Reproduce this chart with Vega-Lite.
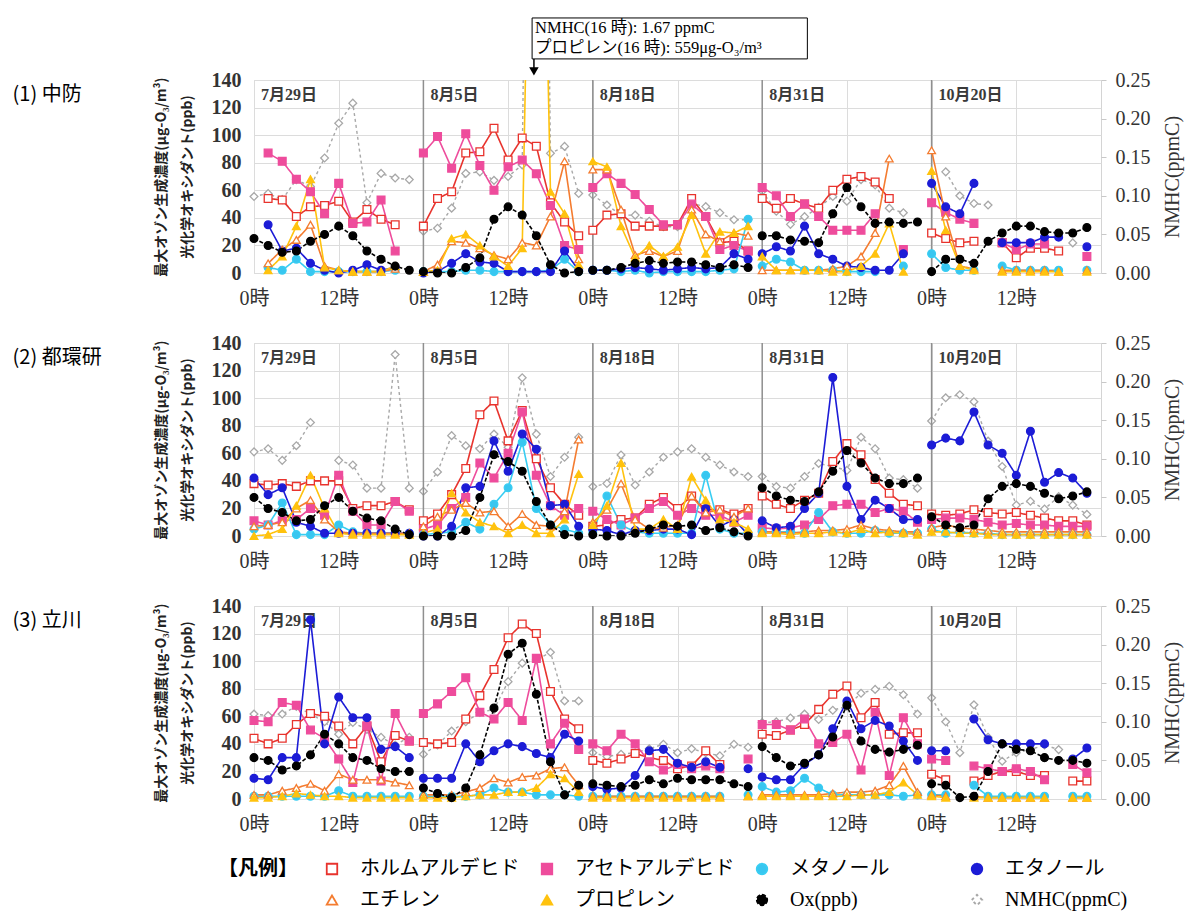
{
"$schema":"https://vega.github.io/schema/vega-lite/v6.json",
"background":"white",
"padding":{"left":12,"top":16,"right":5,"bottom":5},
"spacing":23,
"config":{"view":{"stroke":"#d4d4d4"},"axis":{"labelFlush":false,"labelOverlap":false}},
"datasets":{
"days":[{"t":0,"label":"7月29日"},{"t":12,"label":"8月5日"},{"t":24,"label":"8月18日"},{"t":36,"label":"8月31日"},{"t":48,"label":"10月20日"}],
"m":[
{"p":1,"d":0,"t":0,"F":null,"A":null,"M":null,"E":null,"Et":null,"P":null,"O":25,"N":0.099},
{"p":1,"d":0,"t":1,"F":54,"A":87,"M":4,"E":35,"Et":7,"P":2,"O":20,"N":0.103},
{"p":1,"d":0,"t":2,"F":53,"A":81,"M":2,"E":16,"Et":17,"P":12,"O":15,"N":0.095},
{"p":1,"d":0,"t":3,"F":41,"A":68,"M":10,"E":18,"Et":24,"P":34,"O":16,"N":0.121},
{"p":1,"d":0,"t":4,"F":48,"A":59,"M":1,"E":7,"Et":35,"P":68,"O":23,"N":0.112},
{"p":1,"d":0,"t":5,"F":49,"A":43,"M":1,"E":2,"Et":5,"P":4,"O":28,"N":0.149},
{"p":1,"d":0,"t":6,"F":52,"A":65,"M":1,"E":0,"Et":2,"P":2,"O":34,"N":0.194},
{"p":1,"d":0,"t":7,"F":37,"A":36,"M":1,"E":2,"Et":1,"P":1,"O":27,"N":0.22},
{"p":1,"d":0,"t":8,"F":46,"A":37,"M":1,"E":6,"Et":1,"P":1,"O":16,"N":0.091},
{"p":1,"d":0,"t":9,"F":39,"A":53,"M":1,"E":2,"Et":1,"P":1,"O":10,"N":0.129},
{"p":1,"d":0,"t":10,"F":35,"A":16,"M":2,"E":4,"Et":3,"P":5,"O":5,"N":0.123},
{"p":1,"d":0,"t":11,"F":null,"A":null,"M":null,"E":null,"Et":null,"P":null,"O":2,"N":0.121},
{"p":1,"d":1,"t":12,"F":34,"A":87,"M":1,"E":0,"Et":1,"P":1,"O":1,"N":0.054},
{"p":1,"d":1,"t":13,"F":54,"A":99,"M":1,"E":1,"Et":6,"P":2,"O":0,"N":0.058},
{"p":1,"d":1,"t":14,"F":59,"A":76,"M":1,"E":7,"Et":23,"P":25,"O":0,"N":0.084},
{"p":1,"d":1,"t":15,"F":87,"A":101,"M":2,"E":14,"Et":22,"P":28,"O":4,"N":0.129},
{"p":1,"d":1,"t":16,"F":88,"A":78,"M":2,"E":8,"Et":18,"P":20,"O":11,"N":0.131},
{"p":1,"d":1,"t":17,"F":105,"A":60,"M":1,"E":7,"Et":13,"P":12,"O":39,"N":0.12},
{"p":1,"d":1,"t":18,"F":82,"A":77,"M":1,"E":1,"Et":10,"P":5,"O":48,"N":0.125},
{"p":1,"d":1,"t":19,"F":98,"A":82,"M":1,"E":1,"Et":22,"P":18,"O":42,"N":0.14},
{"p":1,"d":1,"t":20,"F":92,"A":72,"M":1,"E":1,"Et":20,"P":559,"O":27,"N":1.67},
{"p":1,"d":1,"t":21,"F":51,"A":49,"M":2,"E":1,"Et":41,"P":59,"O":6,"N":0.155},
{"p":1,"d":1,"t":22,"F":37,"A":20,"M":10,"E":16,"Et":81,"P":43,"O":0,"N":0.164},
{"p":1,"d":1,"t":23,"F":27,"A":17,"M":1,"E":2,"Et":10,"P":6,"O":1,"N":0.103},
{"p":1,"d":2,"t":24,"F":31,"A":62,"M":2,"E":2,"Et":75,"P":81,"O":2,"N":0.101},
{"p":1,"d":2,"t":25,"F":42,"A":72,"M":2,"E":2,"Et":75,"P":77,"O":2,"N":0.088},
{"p":1,"d":2,"t":26,"F":43,"A":65,"M":1,"E":3,"Et":46,"P":34,"O":4,"N":0.075},
{"p":1,"d":2,"t":27,"F":34,"A":57,"M":2,"E":4,"Et":13,"P":11,"O":7,"N":0.075},
{"p":1,"d":2,"t":28,"F":34,"A":46,"M":0,"E":3,"Et":16,"P":20,"O":9,"N":0.067},
{"p":1,"d":2,"t":29,"F":34,"A":35,"M":1,"E":2,"Et":12,"P":12,"O":7,"N":0.06},
{"p":1,"d":2,"t":30,"F":35,"A":35,"M":1,"E":3,"Et":16,"P":19,"O":8,"N":0.06},
{"p":1,"d":2,"t":31,"F":54,"A":50,"M":1,"E":4,"Et":46,"P":42,"O":8,"N":0.09},
{"p":1,"d":2,"t":32,"F":41,"A":41,"M":1,"E":3,"Et":28,"P":14,"O":6,"N":0.086},
{"p":1,"d":2,"t":33,"F":22,"A":17,"M":2,"E":4,"Et":23,"P":30,"O":4,"N":0.078},
{"p":1,"d":2,"t":34,"F":23,"A":20,"M":3,"E":14,"Et":29,"P":29,"O":6,"N":0.069},
{"p":1,"d":2,"t":35,"F":16,"A":16,"M":39,"E":10,"Et":27,"P":34,"O":4,"N":0.069},
{"p":1,"d":3,"t":36,"F":54,"A":62,"M":5,"E":14,"Et":2,"P":12,"O":27,"N":0.106},
{"p":1,"d":3,"t":37,"F":47,"A":56,"M":10,"E":19,"Et":2,"P":2,"O":27,"N":0.08},
{"p":1,"d":3,"t":38,"F":54,"A":41,"M":8,"E":16,"Et":2,"P":2,"O":24,"N":0.063},
{"p":1,"d":3,"t":39,"F":50,"A":50,"M":2,"E":34,"Et":2,"P":2,"O":23,"N":0.073},
{"p":1,"d":3,"t":40,"F":47,"A":41,"M":2,"E":14,"Et":2,"P":2,"O":22,"N":0.085},
{"p":1,"d":3,"t":41,"F":60,"A":31,"M":2,"E":10,"Et":3,"P":1,"O":43,"N":0.099},
{"p":1,"d":3,"t":42,"F":68,"A":31,"M":1,"E":5,"Et":5,"P":1,"O":62,"N":0.093},
{"p":1,"d":3,"t":43,"F":70,"A":31,"M":1,"E":4,"Et":12,"P":5,"O":48,"N":0.121},
{"p":1,"d":3,"t":44,"F":66,"A":43,"M":1,"E":2,"Et":29,"P":14,"O":36,"N":0.114},
{"p":1,"d":3,"t":45,"F":54,"A":null,"M":null,"E":2,"Et":83,"P":36,"O":37,"N":0.084},
{"p":1,"d":3,"t":46,"F":null,"A":17,"M":5,"E":14,"Et":null,"P":1,"O":36,"N":0.078},
{"p":1,"d":3,"t":47,"F":null,"A":null,"M":null,"E":null,"Et":null,"P":null,"O":37,"N":null},
{"p":1,"d":4,"t":48,"F":29,"A":51,"M":14,"E":65,"Et":89,"P":74,"O":1,"N":null},
{"p":1,"d":4,"t":49,"F":25,"A":44,"M":4,"E":48,"Et":41,"P":31,"O":10,"N":0.131},
{"p":1,"d":4,"t":50,"F":22,"A":39,"M":2,"E":43,"Et":5,"P":5,"O":10,"N":0.1},
{"p":1,"d":4,"t":51,"F":23,"A":36,"M":2,"E":65,"Et":3,"P":2,"O":7,"N":0.09},
{"p":1,"d":4,"t":52,"F":null,"A":null,"M":null,"E":null,"Et":null,"P":null,"O":23,"N":0.088},
{"p":1,"d":4,"t":53,"F":22,"A":22,"M":5,"E":22,"Et":2,"P":1,"O":29,"N":null},
{"p":1,"d":4,"t":54,"F":11,"A":17,"M":2,"E":22,"Et":2,"P":1,"O":34,"N":null},
{"p":1,"d":4,"t":55,"F":18,"A":21,"M":2,"E":22,"Et":2,"P":1,"O":34,"N":null},
{"p":1,"d":4,"t":56,"F":18,"A":21,"M":2,"E":26,"Et":2,"P":1,"O":30,"N":null},
{"p":1,"d":4,"t":57,"F":16,"A":null,"M":2,"E":26,"Et":1,"P":1,"O":29,"N":null},
{"p":1,"d":4,"t":58,"F":null,"A":null,"M":null,"E":null,"Et":null,"P":null,"O":29,"N":0.039},
{"p":1,"d":4,"t":59,"F":null,"A":12,"M":2,"E":19,"Et":2,"P":1,"O":33,"N":null},
{"p":2,"d":0,"t":0,"F":38,"A":11,"M":5,"E":42,"Et":7,"P":0,"O":28,"N":0.109},
{"p":2,"d":0,"t":1,"F":37,"A":8,"M":8,"E":30,"Et":8,"P":1,"O":20,"N":0.113},
{"p":2,"d":0,"t":2,"F":38,"A":11,"M":24,"E":35,"Et":10,"P":5,"O":17,"N":0.098},
{"p":2,"d":0,"t":3,"F":36,"A":12,"M":1,"E":10,"Et":20,"P":22,"O":11,"N":0.117},
{"p":2,"d":0,"t":4,"F":40,"A":20,"M":1,"E":7,"Et":26,"P":44,"O":12,"N":0.147},
{"p":2,"d":0,"t":5,"F":40,"A":15,"M":1,"E":2,"Et":12,"P":20,"O":22,"N":null},
{"p":2,"d":0,"t":6,"F":40,"A":44,"M":8,"E":2,"Et":3,"P":2,"O":28,"N":0.098},
{"p":2,"d":0,"t":7,"F":20,"A":18,"M":3,"E":2,"Et":2,"P":1,"O":18,"N":0.092},
{"p":2,"d":0,"t":8,"F":22,"A":8,"M":2,"E":2,"Et":2,"P":1,"O":13,"N":0.062},
{"p":2,"d":0,"t":9,"F":22,"A":8,"M":2,"E":2,"Et":2,"P":1,"O":11,"N":0.062},
{"p":2,"d":0,"t":10,"F":25,"A":25,"M":2,"E":2,"Et":2,"P":1,"O":5,"N":0.235},
{"p":2,"d":0,"t":11,"F":19,"A":18,"M":2,"E":2,"Et":2,"P":1,"O":1,"N":0.062},
{"p":2,"d":1,"t":12,"F":11,"A":5,"M":1,"E":0,"Et":7,"P":2,"O":0,"N":0.058},
{"p":2,"d":1,"t":13,"F":16,"A":8,"M":2,"E":0,"Et":14,"P":5,"O":0,"N":0.083},
{"p":2,"d":1,"t":14,"F":30,"A":20,"M":3,"E":7,"Et":19,"P":31,"O":0,"N":0.13},
{"p":2,"d":1,"t":15,"F":49,"A":28,"M":10,"E":35,"Et":24,"P":17,"O":4,"N":0.117},
{"p":2,"d":1,"t":16,"F":88,"A":53,"M":5,"E":36,"Et":17,"P":10,"O":28,"N":0.113},
{"p":2,"d":1,"t":17,"F":98,"A":42,"M":23,"E":69,"Et":18,"P":7,"O":59,"N":0.132},
{"p":2,"d":1,"t":18,"F":69,"A":60,"M":35,"E":47,"Et":7,"P":2,"O":54,"N":0.115},
{"p":2,"d":1,"t":19,"F":91,"A":90,"M":68,"E":74,"Et":16,"P":8,"O":47,"N":0.205},
{"p":2,"d":1,"t":20,"F":56,"A":44,"M":20,"E":63,"Et":8,"P":2,"O":25,"N":0.132},
{"p":2,"d":1,"t":21,"F":35,"A":22,"M":8,"E":22,"Et":7,"P":2,"O":8,"N":0.077},
{"p":2,"d":1,"t":22,"F":23,"A":15,"M":5,"E":23,"Et":18,"P":12,"O":1,"N":0.102},
{"p":2,"d":1,"t":23,"F":15,"A":20,"M":2,"E":7,"Et":70,"P":45,"O":0,"N":0.128},
{"p":2,"d":2,"t":24,"F":7,"A":18,"M":3,"E":5,"Et":10,"P":8,"O":1,"N":0.064},
{"p":2,"d":2,"t":25,"F":8,"A":12,"M":29,"E":4,"Et":19,"P":22,"O":0,"N":0.068},
{"p":2,"d":2,"t":26,"F":12,"A":8,"M":8,"E":1,"Et":38,"P":53,"O":0,"N":0.105},
{"p":2,"d":2,"t":27,"F":13,"A":13,"M":3,"E":4,"Et":12,"P":5,"O":2,"N":0.066},
{"p":2,"d":2,"t":28,"F":23,"A":20,"M":2,"E":4,"Et":5,"P":5,"O":5,"N":0.083},
{"p":2,"d":2,"t":29,"F":28,"A":25,"M":2,"E":5,"Et":6,"P":12,"O":8,"N":0.102},
{"p":2,"d":2,"t":30,"F":20,"A":15,"M":2,"E":5,"Et":8,"P":5,"O":7,"N":0.109},
{"p":2,"d":2,"t":31,"F":29,"A":20,"M":2,"E":1,"Et":29,"P":43,"O":8,"N":0.113},
{"p":2,"d":2,"t":32,"F":19,"A":15,"M":44,"E":20,"Et":17,"P":26,"O":4,"N":0.102},
{"p":2,"d":2,"t":33,"F":19,"A":15,"M":5,"E":7,"Et":19,"P":12,"O":6,"N":0.092},
{"p":2,"d":2,"t":34,"F":16,"A":10,"M":2,"E":12,"Et":14,"P":10,"O":3,"N":0.083},
{"p":2,"d":2,"t":35,"F":20,"A":15,"M":2,"E":1,"Et":20,"P":5,"O":0,"N":0.077},
{"p":2,"d":3,"t":36,"F":29,"A":6,"M":3,"E":11,"Et":3,"P":2,"O":35,"N":0.077},
{"p":2,"d":3,"t":37,"F":23,"A":5,"M":3,"E":6,"Et":3,"P":2,"O":29,"N":0.064},
{"p":2,"d":3,"t":38,"F":20,"A":6,"M":3,"E":7,"Et":2,"P":1,"O":26,"N":0.062},
{"p":2,"d":3,"t":39,"F":26,"A":8,"M":2,"E":20,"Et":3,"P":2,"O":25,"N":0.077},
{"p":2,"d":3,"t":40,"F":31,"A":12,"M":17,"E":31,"Et":4,"P":2,"O":32,"N":0.094},
{"p":2,"d":3,"t":41,"F":54,"A":22,"M":3,"E":115,"Et":4,"P":3,"O":47,"N":0.09},
{"p":2,"d":3,"t":42,"F":67,"A":23,"M":2,"E":36,"Et":5,"P":2,"O":62,"N":0.085},
{"p":2,"d":3,"t":43,"F":59,"A":23,"M":2,"E":12,"Et":8,"P":5,"O":53,"N":0.128},
{"p":2,"d":3,"t":44,"F":41,"A":17,"M":4,"E":26,"Et":5,"P":2,"O":42,"N":0.113},
{"p":2,"d":3,"t":45,"F":31,"A":20,"M":2,"E":20,"Et":4,"P":3,"O":38,"N":0.075},
{"p":2,"d":3,"t":46,"F":23,"A":18,"M":2,"E":12,"Et":3,"P":2,"O":38,"N":0.073},
{"p":2,"d":3,"t":47,"F":22,"A":10,"M":2,"E":12,"Et":3,"P":1,"O":42,"N":0.062},
{"p":2,"d":4,"t":48,"F":16,"A":12,"M":5,"E":66,"Et":6,"P":3,"O":14,"N":0.149},
{"p":2,"d":4,"t":49,"F":15,"A":13,"M":2,"E":71,"Et":8,"P":3,"O":8,"N":0.179},
{"p":2,"d":4,"t":50,"F":16,"A":13,"M":3,"E":69,"Et":6,"P":2,"O":6,"N":0.183},
{"p":2,"d":4,"t":51,"F":19,"A":12,"M":2,"E":90,"Et":5,"P":2,"O":8,"N":0.174},
{"p":2,"d":4,"t":52,"F":17,"A":10,"M":2,"E":66,"Et":4,"P":1,"O":27,"N":0.123},
{"p":2,"d":4,"t":53,"F":16,"A":8,"M":1,"E":60,"Et":3,"P":1,"O":36,"N":0.09},
{"p":2,"d":4,"t":54,"F":17,"A":9,"M":1,"E":44,"Et":3,"P":1,"O":38,"N":0.04},
{"p":2,"d":4,"t":55,"F":15,"A":8,"M":1,"E":76,"Et":3,"P":1,"O":36,"N":0.045},
{"p":2,"d":4,"t":56,"F":13,"A":8,"M":1,"E":39,"Et":3,"P":1,"O":31,"N":0.035},
{"p":2,"d":4,"t":57,"F":11,"A":7,"M":1,"E":46,"Et":3,"P":1,"O":27,"N":0.051},
{"p":2,"d":4,"t":58,"F":11,"A":7,"M":1,"E":42,"Et":3,"P":1,"O":29,"N":0.04},
{"p":2,"d":4,"t":59,"F":8,"A":7,"M":1,"E":31,"Et":3,"P":1,"O":32,"N":0.028},
{"p":3,"d":0,"t":0,"F":44,"A":57,"M":2,"E":15,"Et":3,"P":1,"O":30,"N":0.11},
{"p":3,"d":0,"t":1,"F":40,"A":56,"M":2,"E":14,"Et":3,"P":1,"O":28,"N":0.108},
{"p":3,"d":0,"t":2,"F":44,"A":70,"M":2,"E":30,"Et":6,"P":2,"O":21,"N":0.11},
{"p":3,"d":0,"t":3,"F":54,"A":68,"M":2,"E":30,"Et":8,"P":4,"O":24,"N":0.12},
{"p":3,"d":0,"t":4,"F":62,"A":50,"M":2,"E":130,"Et":11,"P":3,"O":32,"N":0.11},
{"p":3,"d":0,"t":5,"F":60,"A":44,"M":2,"E":40,"Et":6,"P":2,"O":47,"N":0.1},
{"p":3,"d":0,"t":6,"F":53,"A":29,"M":6,"E":74,"Et":18,"P":2,"O":40,"N":0.084},
{"p":3,"d":0,"t":7,"F":40,"A":12,"M":2,"E":59,"Et":14,"P":1,"O":30,"N":0.099},
{"p":3,"d":0,"t":8,"F":53,"A":53,"M":2,"E":59,"Et":14,"P":1,"O":28,"N":0.09},
{"p":3,"d":0,"t":9,"F":27,"A":13,"M":2,"E":36,"Et":14,"P":1,"O":22,"N":0.08},
{"p":3,"d":0,"t":10,"F":46,"A":62,"M":2,"E":38,"Et":12,"P":1,"O":20,"N":0.07},
{"p":3,"d":0,"t":11,"F":42,"A":42,"M":2,"E":30,"Et":10,"P":1,"O":20,"N":0.08},
{"p":3,"d":1,"t":12,"F":41,"A":62,"M":2,"E":15,"Et":3,"P":1,"O":8,"N":0.058},
{"p":3,"d":1,"t":13,"F":40,"A":69,"M":2,"E":15,"Et":3,"P":1,"O":4,"N":0.07},
{"p":3,"d":1,"t":14,"F":41,"A":78,"M":2,"E":15,"Et":3,"P":1,"O":1,"N":0.088},
{"p":3,"d":1,"t":15,"F":58,"A":88,"M":2,"E":40,"Et":5,"P":2,"O":8,"N":0.1},
{"p":3,"d":1,"t":16,"F":75,"A":63,"M":3,"E":27,"Et":8,"P":3,"O":32,"N":0.112},
{"p":3,"d":1,"t":17,"F":94,"A":58,"M":8,"E":35,"Et":15,"P":3,"O":66,"N":0.116},
{"p":3,"d":1,"t":18,"F":117,"A":70,"M":5,"E":40,"Et":12,"P":5,"O":105,"N":0.152},
{"p":3,"d":1,"t":19,"F":127,"A":57,"M":5,"E":38,"Et":16,"P":5,"O":113,"N":0.176},
{"p":3,"d":1,"t":20,"F":120,"A":102,"M":3,"E":33,"Et":17,"P":8,"O":76,"N":0.18},
{"p":3,"d":1,"t":21,"F":78,"A":40,"M":3,"E":30,"Et":22,"P":18,"O":27,"N":0.19},
{"p":3,"d":1,"t":22,"F":58,"A":55,"M":3,"E":47,"Et":23,"P":15,"O":3,"N":0.127},
{"p":3,"d":1,"t":23,"F":51,"A":36,"M":2,"E":42,"Et":10,"P":5,"O":10,"N":0.127},
{"p":3,"d":2,"t":24,"F":28,"A":40,"M":2,"E":9,"Et":2,"P":1,"O":11,"N":0.06},
{"p":3,"d":2,"t":25,"F":26,"A":35,"M":2,"E":7,"Et":2,"P":1,"O":10,"N":0.055},
{"p":3,"d":2,"t":26,"F":29,"A":47,"M":2,"E":8,"Et":2,"P":1,"O":9,"N":0.058},
{"p":3,"d":2,"t":27,"F":33,"A":40,"M":2,"E":17,"Et":2,"P":1,"O":10,"N":0.06},
{"p":3,"d":2,"t":28,"F":30,"A":27,"M":2,"E":35,"Et":2,"P":1,"O":14,"N":0.065},
{"p":3,"d":2,"t":29,"F":28,"A":21,"M":2,"E":36,"Et":2,"P":1,"O":11,"N":0.071},
{"p":3,"d":2,"t":30,"F":22,"A":25,"M":2,"E":26,"Et":2,"P":1,"O":15,"N":0.06},
{"p":3,"d":2,"t":31,"F":24,"A":22,"M":2,"E":23,"Et":2,"P":1,"O":14,"N":0.065},
{"p":3,"d":2,"t":32,"F":35,"A":24,"M":2,"E":27,"Et":2,"P":1,"O":14,"N":0.06},
{"p":3,"d":2,"t":33,"F":25,"A":22,"M":2,"E":23,"Et":2,"P":1,"O":14,"N":0.056},
{"p":3,"d":2,"t":34,"F":null,"A":null,"M":null,"E":null,"Et":null,"P":null,"O":11,"N":0.071},
{"p":3,"d":2,"t":35,"F":null,"A":29,"M":3,"E":22,"Et":2,"P":2,"O":9,"N":0.067},
{"p":3,"d":3,"t":36,"F":47,"A":54,"M":9,"E":16,"Et":3,"P":2,"O":38,"N":0.099},
{"p":3,"d":3,"t":37,"F":46,"A":54,"M":5,"E":14,"Et":3,"P":2,"O":30,"N":0.1},
{"p":3,"d":3,"t":38,"F":50,"A":50,"M":6,"E":14,"Et":3,"P":2,"O":24,"N":0.105},
{"p":3,"d":3,"t":39,"F":54,"A":58,"M":15,"E":25,"Et":3,"P":2,"O":26,"N":0.11},
{"p":3,"d":3,"t":40,"F":65,"A":40,"M":8,"E":32,"Et":3,"P":2,"O":32,"N":0.103},
{"p":3,"d":3,"t":41,"F":76,"A":41,"M":3,"E":51,"Et":4,"P":2,"O":45,"N":0.115},
{"p":3,"d":3,"t":42,"F":82,"A":47,"M":3,"E":71,"Et":5,"P":2,"O":68,"N":0.12},
{"p":3,"d":3,"t":43,"F":59,"A":21,"M":3,"E":51,"Et":5,"P":3,"O":42,"N":0.137},
{"p":3,"d":3,"t":44,"F":70,"A":63,"M":3,"E":57,"Et":6,"P":3,"O":36,"N":0.142},
{"p":3,"d":3,"t":45,"F":47,"A":17,"M":3,"E":53,"Et":10,"P":5,"O":34,"N":0.146},
{"p":3,"d":3,"t":46,"F":48,"A":59,"M":2,"E":42,"Et":24,"P":12,"O":36,"N":0.135},
{"p":3,"d":3,"t":47,"F":48,"A":40,"M":3,"E":28,"Et":5,"P":3,"O":39,"N":0.11},
{"p":3,"d":4,"t":48,"F":18,"A":29,"M":3,"E":35,"Et":3,"P":2,"O":11,"N":0.131},
{"p":3,"d":4,"t":49,"F":14,"A":28,"M":3,"E":35,"Et":2,"P":1,"O":10,"N":0.1},
{"p":3,"d":4,"t":50,"F":null,"A":null,"M":null,"E":null,"Et":null,"P":null,"O":1,"N":0.06},
{"p":3,"d":4,"t":51,"F":13,"A":24,"M":10,"E":58,"Et":2,"P":1,"O":2,"N":0.122},
{"p":3,"d":4,"t":52,"F":17,"A":22,"M":2,"E":43,"Et":1,"P":1,"O":20,"N":0.08},
{"p":3,"d":4,"t":53,"F":20,"A":20,"M":2,"E":40,"Et":1,"P":1,"O":40,"N":0.049},
{"p":3,"d":4,"t":54,"F":20,"A":22,"M":2,"E":40,"Et":1,"P":1,"O":36,"N":0.06},
{"p":3,"d":4,"t":55,"F":17,"A":20,"M":2,"E":40,"Et":1,"P":1,"O":35,"N":0.064},
{"p":3,"d":4,"t":56,"F":17,"A":14,"M":2,"E":40,"Et":1,"P":1,"O":30,"N":0.07},
{"p":3,"d":4,"t":57,"F":null,"A":null,"M":null,"E":null,"Et":null,"P":null,"O":28,"N":0.064},
{"p":3,"d":4,"t":58,"F":13,"A":25,"M":2,"E":29,"Et":1,"P":1,"O":28,"N":null},
{"p":3,"d":4,"t":59,"F":13,"A":19,"M":2,"E":37,"Et":1,"P":1,"O":26,"N":null}
]},
"vconcat":[
{"width":847,"height":193,
"resolve":{"scale":{"y":"independent"},"axis":{"x":"independent"}},
"layer":[
{"data":{"name":"m"},"transform":[{"filter":"datum.p == 1"},{"fold":["N"],"as":["s","v"]}],
"mark":{"type":"line","clip":true,"strokeWidth":1.4,"invalid":"break-paths-filter-domains"},
"encoding":{"x":{"field":"t","type":"quantitative","scale":{"domain":[0,60],"nice":false},"axis":null},
"y":{"field":"v","type":"quantitative","scale":{"domain":[0,0.25],"nice":false},"axis":{"orient":"right","values":[0,0.05,0.1,0.15,0.2,0.25],"format":".2f","grid":false,"ticks":true,"tickColor":"#c8c8c8","tickSize":5,"domain":false,"labelPadding":9,"labelFont":"Liberation Serif","labelFontSize":20,"labelColor":"#333","title":"NMHC(ppmC)","titleFont":"Liberation Serif","titleFontWeight":"normal","titleFontSize":20,"titleColor":"#333","titleAngle":270,"titleBaseline":"top","titlePadding":12}},
"stroke":{"field":"s","type":"nominal","scale":{"domain":["F","A","M","E","Et","P","O","N"],"range":["#e8332d","#ee4c9c","#38cdf2","#1c1cd6","#f47c30","#ffc20e","#000000","#a8a8a8"]},
"legend":{"title":"【凡例】","orient":"none","legendX":-36,"legendY":779,"direction":"horizontal","columns":4,"gridAlign":"all","columnPadding":17,"rowPadding":11,"titleOrient":"left","titleAnchor":"start","titleBaseline":"top","titleFont":"Noto Sans CJK JP","titleFontSize":20,"titleFontWeight":"bold","titleColor":"#000","titlePadding":24,"labelFont":"Liberation Serif, Noto Sans CJK JP","labelFontSize":20,"labelColor":"#000","labelLimit":400,"labelOffset":18,"symbolSize":110,"symbolStrokeWidth":1.8,"symbolOpacity":1,
"labelExpr":"{'F':'ホルムアルデヒド','A':'アセトアルデヒド','M':'メタノール','E':'エタノール','Et':'エチレン','P':'プロピレン','O':'Ox(ppb)','N':'NMHC(ppmC)'}[datum.value]"}},
"strokeDash":{"field":"s","type":"nominal","scale":{"domain":["F","A","M","E","Et","P","O","N"],"range":[[1,0],[1,0],[1,0],[1,0],[1,0],[1,0],[4,2],[3,3]]}},
"detail":{"field":"d","type":"nominal"}}},
{"data":{"name":"m"},"transform":[{"filter":"datum.p == 1"},{"fold":["N"],"as":["s","v"]},{"filter":"isValid(datum.v) && datum.v <= 0.25"}],
"mark":{"type":"point","opacity":1,"size":60,"strokeWidth":1.3},
"encoding":{"x":{"field":"t","type":"quantitative","scale":{"domain":[0,60]},"axis":null},
"y":{"field":"v","type":"quantitative","scale":{"domain":[0,0.25]},"axis":null},
"stroke":{"field":"s","type":"nominal","scale":{"domain":["F","A","M","E","Et","P","O","N"],"range":["#e8332d","#ee4c9c","#38cdf2","#1c1cd6","#f47c30","#ffc20e","#000000","#a8a8a8"]}},
"fill":{"field":"s","type":"nominal","scale":{"domain":["F","A","M","E","Et","P","O","N"],"range":["#ffffff","#ee4c9c","#38c6f0","#1c1cd6","#ffffff","#ffc20e","#000000","#ffffff"]}},
"shape":{"field":"s","type":"nominal","scale":{"domain":["F","A","M","E","Et","P","O","N"],"range":["square","square","circle","circle","triangle-up","triangle-up","circle","diamond"]}}}},
{"data":{"name":"days"},"transform":[{"filter":"datum.t > 0"}],"mark":{"type":"rule","color":"#8f8f8f","strokeWidth":1.5},
"encoding":{"x":{"field":"t","type":"quantitative","scale":{"domain":[0,60]},"axis":null}}},
{"data":{"name":"days"},"mark":{"type":"text","align":"left","baseline":"middle","dx":7,"font":"Liberation Serif, Noto Sans CJK JP","fontSize":16,"fontWeight":"bold","color":"#3a3a3a"},
"encoding":{"x":{"field":"t","type":"quantitative","scale":{"domain":[0,60]},"axis":null},"y":{"datum":129,"type":"quantitative","scale":{"domain":[0,140]},"axis":null},"text":{"field":"label"}}},
{"data":{"values":[{"label":"(1) 中防"}]},"mark":{"type":"text","align":"left","baseline":"middle","font":"Noto Sans CJK JP","fontSize":20,"color":"#000"},
"encoding":{"x":{"datum":-17.1,"type":"quantitative","scale":{"domain":[0,60]},"axis":null},"y":{"datum":129,"type":"quantitative","scale":{"domain":[0,140]},"axis":null},"text":{"field":"label"}}},
{"data":{"values":[{}]},"mark":{"type":"rect","fill":"white","stroke":"#000","strokeWidth":1},
"encoding":{"x":{"datum":19.7,"type":"quantitative","scale":{"domain":[0,60]},"axis":null},"x2":{"datum":39.2},"y":{"datum":185,"type":"quantitative","scale":{"domain":[0,140]},"axis":null},"y2":{"datum":155.3}}},
{"data":{"values":[{}]},"mark":{"type":"text","align":"left","baseline":"top","dx":3,"font":"Liberation Serif, Noto Sans CJK JP","fontSize":16.5,"lineHeight":20,"color":"#000","text":["NMHC(16 時): 1.67 ppmC","プロピレン(16 時): 559μg-O₃/m³"]},
"encoding":{"x":{"datum":19.7,"type":"quantitative","scale":{"domain":[0,60]},"axis":null},"y":{"datum":183.5,"type":"quantitative","scale":{"domain":[0,140]},"axis":null}}},
{"data":{"values":[{}]},"mark":{"type":"rule","color":"#000","strokeWidth":1.5},
"encoding":{"x":{"datum":19.83,"type":"quantitative","scale":{"domain":[0,60]},"axis":null},"y":{"datum":155.3,"type":"quantitative","scale":{"domain":[0,140]},"axis":null},"y2":{"datum":148}}},
{"data":{"values":[{}]},"mark":{"type":"point","shape":"triangle-down","filled":true,"color":"#000","opacity":1,"size":90},
"encoding":{"x":{"datum":19.83,"type":"quantitative","scale":{"domain":[0,60]},"axis":null},"y":{"datum":146.3,"type":"quantitative","scale":{"domain":[0,140]},"axis":null}}},
{"data":{"name":"m"},"transform":[{"filter":"datum.p == 1"},{"fold":["F","A","M","E","Et","P","O"],"as":["s","v"]}],
"mark":{"type":"line","clip":true,"strokeWidth":1.6,"invalid":"break-paths-filter-domains"},
"encoding":{"x":{"field":"t","type":"quantitative","scale":{"domain":[0,60],"nice":false},"axis":{"values":[0,6,12,18,24,30,36,42,48,54],"labelExpr":"datum.value % 12 == 0 ? '0時' : '12時'","grid":true,"gridColor":"#dcdcdc","ticks":false,"domain":false,"labelPadding":15,"labelFont":"Liberation Serif, Noto Sans CJK JP","labelFontSize":20,"labelColor":"#333","title":null}},
"y":{"field":"v","type":"quantitative","scale":{"domain":[0,140],"nice":false},"axis":{"orient":"left","values":[0,20,40,60,80,100,120,140],"grid":true,"gridColor":"#dcdcdc","ticks":false,"domain":false,"labelPadding":13,"labelFont":"Liberation Serif","labelFontWeight":"bold","labelFontSize":20,"labelColor":"#333","title":["最大オゾン生成濃度(μg-O₃/m³)","光化学オキシダント(ppb)"],"titleFont":"Noto Sans CJK JP","titleFontWeight":"bold","titleFontSize":14,"titleColor":"#222","titleLineHeight":26,"titlePadding":17}},
"stroke":{"field":"s","type":"nominal","scale":{"domain":["F","A","M","E","Et","P","O","N"],"range":["#e8332d","#ee4c9c","#38cdf2","#1c1cd6","#f47c30","#ffc20e","#000000","#a8a8a8"]}},
"strokeDash":{"field":"s","type":"nominal","scale":{"domain":["F","A","M","E","Et","P","O","N"],"range":[[1,0],[1,0],[1,0],[1,0],[1,0],[1,0],[4,2],[3,3]]}},
"detail":{"field":"d","type":"nominal"}}},
{"data":{"name":"m"},"transform":[{"filter":"datum.p == 1"},{"fold":["F","A","M","E","Et","P","O"],"as":["s","v"]},{"filter":"isValid(datum.v) && datum.v <= 140"}],
"mark":{"type":"point","opacity":1,"size":60,"strokeWidth":1.3},
"encoding":{"x":{"field":"t","type":"quantitative","scale":{"domain":[0,60]},"axis":null},
"y":{"field":"v","type":"quantitative","scale":{"domain":[0,140]},"axis":null},
"stroke":{"field":"s","type":"nominal","scale":{"domain":["F","A","M","E","Et","P","O","N"],"range":["#e8332d","#ee4c9c","#38cdf2","#1c1cd6","#f47c30","#ffc20e","#000000","#a8a8a8"]}},
"fill":{"field":"s","type":"nominal","scale":{"domain":["F","A","M","E","Et","P","O","N"],"range":["#ffffff","#ee4c9c","#38c6f0","#1c1cd6","#ffffff","#ffc20e","#000000","#ffffff"]}},
"shape":{"field":"s","type":"nominal","scale":{"domain":["F","A","M","E","Et","P","O","N"],"range":["square","square","circle","circle","triangle-up","triangle-up","circle","diamond"]}}}}
]},
{"width":847,"height":193,
"resolve":{"scale":{"y":"independent"},"axis":{"x":"independent"}},
"layer":[
{"data":{"name":"m"},"transform":[{"filter":"datum.p == 2"},{"fold":["N"],"as":["s","v"]}],
"mark":{"type":"line","clip":true,"strokeWidth":1.4,"invalid":"break-paths-filter-domains"},
"encoding":{"x":{"field":"t","type":"quantitative","scale":{"domain":[0,60],"nice":false},"axis":null},
"y":{"field":"v","type":"quantitative","scale":{"domain":[0,0.25],"nice":false},"axis":{"orient":"right","values":[0,0.05,0.1,0.15,0.2,0.25],"format":".2f","grid":false,"ticks":true,"tickColor":"#c8c8c8","tickSize":5,"domain":false,"labelPadding":9,"labelFont":"Liberation Serif","labelFontSize":20,"labelColor":"#333","title":"NMHC(ppmC)","titleFont":"Liberation Serif","titleFontWeight":"normal","titleFontSize":20,"titleColor":"#333","titleAngle":270,"titleBaseline":"top","titlePadding":12}},
"stroke":{"field":"s","type":"nominal","scale":{"domain":["F","A","M","E","Et","P","O","N"],"range":["#e8332d","#ee4c9c","#38cdf2","#1c1cd6","#f47c30","#ffc20e","#000000","#a8a8a8"]}},
"strokeDash":{"field":"s","type":"nominal","scale":{"domain":["F","A","M","E","Et","P","O","N"],"range":[[1,0],[1,0],[1,0],[1,0],[1,0],[1,0],[4,2],[3,3]]}},
"detail":{"field":"d","type":"nominal"}}},
{"data":{"name":"m"},"transform":[{"filter":"datum.p == 2"},{"fold":["N"],"as":["s","v"]},{"filter":"isValid(datum.v) && datum.v <= 0.25"}],
"mark":{"type":"point","opacity":1,"size":60,"strokeWidth":1.3},
"encoding":{"x":{"field":"t","type":"quantitative","scale":{"domain":[0,60]},"axis":null},
"y":{"field":"v","type":"quantitative","scale":{"domain":[0,0.25]},"axis":null},
"stroke":{"field":"s","type":"nominal","scale":{"domain":["F","A","M","E","Et","P","O","N"],"range":["#e8332d","#ee4c9c","#38cdf2","#1c1cd6","#f47c30","#ffc20e","#000000","#a8a8a8"]}},
"fill":{"field":"s","type":"nominal","scale":{"domain":["F","A","M","E","Et","P","O","N"],"range":["#ffffff","#ee4c9c","#38c6f0","#1c1cd6","#ffffff","#ffc20e","#000000","#ffffff"]}},
"shape":{"field":"s","type":"nominal","scale":{"domain":["F","A","M","E","Et","P","O","N"],"range":["square","square","circle","circle","triangle-up","triangle-up","circle","diamond"]}}}},
{"data":{"name":"days"},"transform":[{"filter":"datum.t > 0"}],"mark":{"type":"rule","color":"#8f8f8f","strokeWidth":1.5},
"encoding":{"x":{"field":"t","type":"quantitative","scale":{"domain":[0,60]},"axis":null}}},
{"data":{"name":"days"},"mark":{"type":"text","align":"left","baseline":"middle","dx":7,"font":"Liberation Serif, Noto Sans CJK JP","fontSize":16,"fontWeight":"bold","color":"#3a3a3a"},
"encoding":{"x":{"field":"t","type":"quantitative","scale":{"domain":[0,60]},"axis":null},"y":{"datum":129,"type":"quantitative","scale":{"domain":[0,140]},"axis":null},"text":{"field":"label"}}},
{"data":{"values":[{"label":"(2) 都環研"}]},"mark":{"type":"text","align":"left","baseline":"middle","font":"Noto Sans CJK JP","fontSize":20,"color":"#000"},
"encoding":{"x":{"datum":-17.1,"type":"quantitative","scale":{"domain":[0,60]},"axis":null},"y":{"datum":129,"type":"quantitative","scale":{"domain":[0,140]},"axis":null},"text":{"field":"label"}}},
{"data":{"name":"m"},"transform":[{"filter":"datum.p == 2"},{"fold":["F","A","M","E","Et","P","O"],"as":["s","v"]}],
"mark":{"type":"line","clip":true,"strokeWidth":1.6,"invalid":"break-paths-filter-domains"},
"encoding":{"x":{"field":"t","type":"quantitative","scale":{"domain":[0,60],"nice":false},"axis":{"values":[0,6,12,18,24,30,36,42,48,54],"labelExpr":"datum.value % 12 == 0 ? '0時' : '12時'","grid":true,"gridColor":"#dcdcdc","ticks":false,"domain":false,"labelPadding":15,"labelFont":"Liberation Serif, Noto Sans CJK JP","labelFontSize":20,"labelColor":"#333","title":null}},
"y":{"field":"v","type":"quantitative","scale":{"domain":[0,140],"nice":false},"axis":{"orient":"left","values":[0,20,40,60,80,100,120,140],"grid":true,"gridColor":"#dcdcdc","ticks":false,"domain":false,"labelPadding":13,"labelFont":"Liberation Serif","labelFontWeight":"bold","labelFontSize":20,"labelColor":"#333","title":["最大オゾン生成濃度(μg-O₃/m³)","光化学オキシダント(ppb)"],"titleFont":"Noto Sans CJK JP","titleFontWeight":"bold","titleFontSize":14,"titleColor":"#222","titleLineHeight":26,"titlePadding":17}},
"stroke":{"field":"s","type":"nominal","scale":{"domain":["F","A","M","E","Et","P","O","N"],"range":["#e8332d","#ee4c9c","#38cdf2","#1c1cd6","#f47c30","#ffc20e","#000000","#a8a8a8"]}},
"strokeDash":{"field":"s","type":"nominal","scale":{"domain":["F","A","M","E","Et","P","O","N"],"range":[[1,0],[1,0],[1,0],[1,0],[1,0],[1,0],[4,2],[3,3]]}},
"detail":{"field":"d","type":"nominal"}}},
{"data":{"name":"m"},"transform":[{"filter":"datum.p == 2"},{"fold":["F","A","M","E","Et","P","O"],"as":["s","v"]},{"filter":"isValid(datum.v) && datum.v <= 140"}],
"mark":{"type":"point","opacity":1,"size":60,"strokeWidth":1.3},
"encoding":{"x":{"field":"t","type":"quantitative","scale":{"domain":[0,60]},"axis":null},
"y":{"field":"v","type":"quantitative","scale":{"domain":[0,140]},"axis":null},
"stroke":{"field":"s","type":"nominal","scale":{"domain":["F","A","M","E","Et","P","O","N"],"range":["#e8332d","#ee4c9c","#38cdf2","#1c1cd6","#f47c30","#ffc20e","#000000","#a8a8a8"]}},
"fill":{"field":"s","type":"nominal","scale":{"domain":["F","A","M","E","Et","P","O","N"],"range":["#ffffff","#ee4c9c","#38c6f0","#1c1cd6","#ffffff","#ffc20e","#000000","#ffffff"]}},
"shape":{"field":"s","type":"nominal","scale":{"domain":["F","A","M","E","Et","P","O","N"],"range":["square","square","circle","circle","triangle-up","triangle-up","circle","diamond"]}}}}
]},
{"width":847,"height":193,
"resolve":{"scale":{"y":"independent"},"axis":{"x":"independent"}},
"layer":[
{"data":{"name":"m"},"transform":[{"filter":"datum.p == 3"},{"fold":["N"],"as":["s","v"]}],
"mark":{"type":"line","clip":true,"strokeWidth":1.4,"invalid":"break-paths-filter-domains"},
"encoding":{"x":{"field":"t","type":"quantitative","scale":{"domain":[0,60],"nice":false},"axis":null},
"y":{"field":"v","type":"quantitative","scale":{"domain":[0,0.25],"nice":false},"axis":{"orient":"right","values":[0,0.05,0.1,0.15,0.2,0.25],"format":".2f","grid":false,"ticks":true,"tickColor":"#c8c8c8","tickSize":5,"domain":false,"labelPadding":9,"labelFont":"Liberation Serif","labelFontSize":20,"labelColor":"#333","title":"NMHC(ppmC)","titleFont":"Liberation Serif","titleFontWeight":"normal","titleFontSize":20,"titleColor":"#333","titleAngle":270,"titleBaseline":"top","titlePadding":12}},
"stroke":{"field":"s","type":"nominal","scale":{"domain":["F","A","M","E","Et","P","O","N"],"range":["#e8332d","#ee4c9c","#38cdf2","#1c1cd6","#f47c30","#ffc20e","#000000","#a8a8a8"]}},
"strokeDash":{"field":"s","type":"nominal","scale":{"domain":["F","A","M","E","Et","P","O","N"],"range":[[1,0],[1,0],[1,0],[1,0],[1,0],[1,0],[4,2],[3,3]]}},
"detail":{"field":"d","type":"nominal"}}},
{"data":{"name":"m"},"transform":[{"filter":"datum.p == 3"},{"fold":["N"],"as":["s","v"]},{"filter":"isValid(datum.v) && datum.v <= 0.25"}],
"mark":{"type":"point","opacity":1,"size":60,"strokeWidth":1.3},
"encoding":{"x":{"field":"t","type":"quantitative","scale":{"domain":[0,60]},"axis":null},
"y":{"field":"v","type":"quantitative","scale":{"domain":[0,0.25]},"axis":null},
"stroke":{"field":"s","type":"nominal","scale":{"domain":["F","A","M","E","Et","P","O","N"],"range":["#e8332d","#ee4c9c","#38cdf2","#1c1cd6","#f47c30","#ffc20e","#000000","#a8a8a8"]}},
"fill":{"field":"s","type":"nominal","scale":{"domain":["F","A","M","E","Et","P","O","N"],"range":["#ffffff","#ee4c9c","#38c6f0","#1c1cd6","#ffffff","#ffc20e","#000000","#ffffff"]}},
"shape":{"field":"s","type":"nominal","scale":{"domain":["F","A","M","E","Et","P","O","N"],"range":["square","square","circle","circle","triangle-up","triangle-up","circle","diamond"]}}}},
{"data":{"name":"days"},"transform":[{"filter":"datum.t > 0"}],"mark":{"type":"rule","color":"#8f8f8f","strokeWidth":1.5},
"encoding":{"x":{"field":"t","type":"quantitative","scale":{"domain":[0,60]},"axis":null}}},
{"data":{"name":"days"},"mark":{"type":"text","align":"left","baseline":"middle","dx":7,"font":"Liberation Serif, Noto Sans CJK JP","fontSize":16,"fontWeight":"bold","color":"#3a3a3a"},
"encoding":{"x":{"field":"t","type":"quantitative","scale":{"domain":[0,60]},"axis":null},"y":{"datum":129,"type":"quantitative","scale":{"domain":[0,140]},"axis":null},"text":{"field":"label"}}},
{"data":{"values":[{"label":"(3) 立川"}]},"mark":{"type":"text","align":"left","baseline":"middle","font":"Noto Sans CJK JP","fontSize":20,"color":"#000"},
"encoding":{"x":{"datum":-17.1,"type":"quantitative","scale":{"domain":[0,60]},"axis":null},"y":{"datum":129,"type":"quantitative","scale":{"domain":[0,140]},"axis":null},"text":{"field":"label"}}},
{"data":{"name":"m"},"transform":[{"filter":"datum.p == 3"},{"fold":["F","A","M","E","Et","P","O"],"as":["s","v"]}],
"mark":{"type":"line","clip":true,"strokeWidth":1.6,"invalid":"break-paths-filter-domains"},
"encoding":{"x":{"field":"t","type":"quantitative","scale":{"domain":[0,60],"nice":false},"axis":{"values":[0,6,12,18,24,30,36,42,48,54],"labelExpr":"datum.value % 12 == 0 ? '0時' : '12時'","grid":true,"gridColor":"#dcdcdc","ticks":false,"domain":false,"labelPadding":15,"labelFont":"Liberation Serif, Noto Sans CJK JP","labelFontSize":20,"labelColor":"#333","title":null}},
"y":{"field":"v","type":"quantitative","scale":{"domain":[0,140],"nice":false},"axis":{"orient":"left","values":[0,20,40,60,80,100,120,140],"grid":true,"gridColor":"#dcdcdc","ticks":false,"domain":false,"labelPadding":13,"labelFont":"Liberation Serif","labelFontWeight":"bold","labelFontSize":20,"labelColor":"#333","title":["最大オゾン生成濃度(μg-O₃/m³)","光化学オキシダント(ppb)"],"titleFont":"Noto Sans CJK JP","titleFontWeight":"bold","titleFontSize":14,"titleColor":"#222","titleLineHeight":26,"titlePadding":17}},
"stroke":{"field":"s","type":"nominal","scale":{"domain":["F","A","M","E","Et","P","O","N"],"range":["#e8332d","#ee4c9c","#38cdf2","#1c1cd6","#f47c30","#ffc20e","#000000","#a8a8a8"]}},
"strokeDash":{"field":"s","type":"nominal","scale":{"domain":["F","A","M","E","Et","P","O","N"],"range":[[1,0],[1,0],[1,0],[1,0],[1,0],[1,0],[4,2],[3,3]]}},
"detail":{"field":"d","type":"nominal"}}},
{"data":{"name":"m"},"transform":[{"filter":"datum.p == 3"},{"fold":["F","A","M","E","Et","P","O"],"as":["s","v"]},{"filter":"isValid(datum.v) && datum.v <= 140"}],
"mark":{"type":"point","opacity":1,"size":60,"strokeWidth":1.3},
"encoding":{"x":{"field":"t","type":"quantitative","scale":{"domain":[0,60]},"axis":null},
"y":{"field":"v","type":"quantitative","scale":{"domain":[0,140]},"axis":null},
"stroke":{"field":"s","type":"nominal","scale":{"domain":["F","A","M","E","Et","P","O","N"],"range":["#e8332d","#ee4c9c","#38cdf2","#1c1cd6","#f47c30","#ffc20e","#000000","#a8a8a8"]}},
"fill":{"field":"s","type":"nominal","scale":{"domain":["F","A","M","E","Et","P","O","N"],"range":["#ffffff","#ee4c9c","#38c6f0","#1c1cd6","#ffffff","#ffc20e","#000000","#ffffff"]}},
"shape":{"field":"s","type":"nominal","scale":{"domain":["F","A","M","E","Et","P","O","N"],"range":["square","square","circle","circle","triangle-up","triangle-up","circle","diamond"]}}}}
]}
]
}
